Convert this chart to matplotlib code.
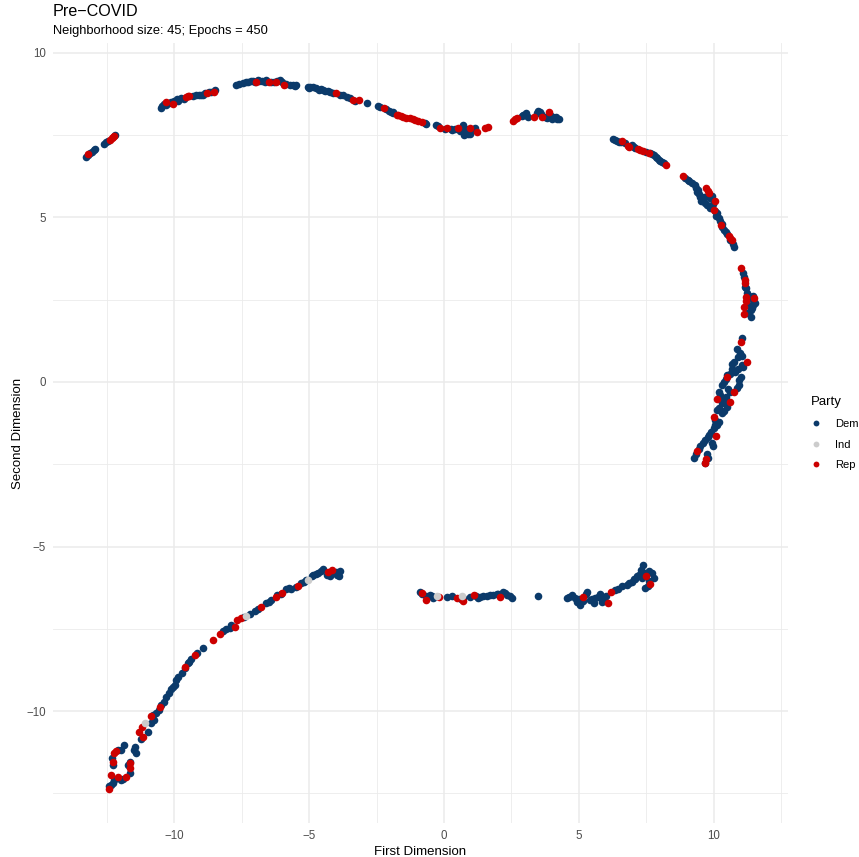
import matplotlib
matplotlib.use("Agg")
import matplotlib.pyplot as plt
from matplotlib.lines import Line2D

plt.rcParams['font.family'] = ['Liberation Sans', 'DejaVu Sans']

title = "Pre\u2212COVID"
subtitle = "Neighborhood size: 45; Epochs = 450"
x_label = "First Dimension"
y_label = "Second Dimension"
parties = ["Dem", "Ind", "Rep"]
party_colors = {"Dem": "#0B3A6A", "Ind": "#CCCCCC", "Rep": "#CC0000"}
x_ticks = [-10, -5, 0, 5, 10]
y_ticks = [-10, -5, 0, 5, 10]

dem_pts = [
    # top-left fragment
    (-13.27, 6.84), (-13.2, 6.9), (-13.12, 6.95), (-13.05, 7.0), (-12.98, 7.05), (-12.93, 7.08),
    (-12.6, 7.24), (-12.53, 7.28), (-12.47, 7.31), (-12.2, 7.5),
    # upper arc
    (-10.49, 8.34), (-10.45, 8.38), (-10.38, 8.44), (-10.2, 8.48), (-10.12, 8.5), (-10.0, 8.55),
    (-9.9, 8.6), (-9.85, 8.55), (-9.75, 8.62), (-9.3, 8.7), (-9.19, 8.72), (-9.1, 8.72),
    (-9.0, 8.72), (-8.94, 8.72), (-8.88, 8.77), (-8.65, 8.82), (-8.51, 8.86),
    (-10.3, 8.42), (-9.65, 8.6), (-8.7, 8.8),
    (-7.7, 9.02), (-7.6, 9.04), (-7.45, 9.07), (-7.35, 9.1), (-7.25, 9.12), (-7.15, 9.14),
    (-7.08, 9.16), (-6.85, 9.14), (-6.75, 9.15), (-6.65, 9.13), (-6.59, 9.18), (-6.4, 9.12),
    (-6.3, 9.1), (-6.09, 9.18), (-6.0, 9.1), (-5.85, 9.05), (-5.7, 9.03), (-5.6, 9.02),
    (-5.47, 9.02), (-5.52, 8.98), (-7.0, 9.12), (-6.9, 9.18), (-6.2, 9.15),
    (-5.04, 8.97), (-4.95, 8.95), (-4.85, 8.95), (-4.73, 8.92), (-4.65, 8.88), (-4.55, 8.9),
    (-4.48, 8.87), (-4.4, 8.85), (-4.3, 8.83), (-4.23, 8.82), (-3.85, 8.73), (-3.74, 8.72),
    (-3.6, 8.66), (-3.49, 8.62), (-2.85, 8.48), (-2.44, 8.39), (-2.38, 8.36), (-2.05, 8.24),
    (-1.95, 8.2), (-1.88, 8.18), (-5.0, 8.93), (-4.1, 8.78), (-3.3, 8.55), (-2.15, 8.28),
    (-1.9, 8.19), (-0.67, 7.83), (-0.72, 7.86), (-0.3, 7.8), (-0.22, 7.77), (0.05, 7.7),
    (0.25, 7.7), (0.41, 7.69), (0.72, 7.81), (0.8, 7.7), (0.85, 7.6), (0.9, 7.55),
    (0.95, 7.52), (1.15, 7.73), (1.05, 7.66), (0.3, 7.65), (0.6, 7.62), (0.75, 7.5), (0.92, 7.62),
    (2.89, 8.09), (2.95, 8.12), (3.05, 8.16), (3.0, 8.1), (3.5, 8.23), (3.45, 8.18),
    (3.81, 8.01), (3.75, 8.05), (3.95, 8.1), (4.06, 8.06), (4.15, 8.04), (4.28, 7.99), (3.6, 8.15),
    (3.1, 8.05), (3.55, 8.2), (4.0, 8.0), (4.2, 7.98),
    # right arc
    (6.27, 7.38), (6.35, 7.34), (6.48, 7.28), (6.55, 7.3), (6.97, 7.2), (7.05, 7.15),
    (7.65, 6.97), (7.72, 6.93), (7.78, 6.9), (7.85, 6.85), (7.96, 6.76), (8.03, 6.72), (8.09, 6.69),
    (6.4, 7.32), (6.7, 7.26), (7.1, 7.1), (7.5, 6.98), (7.9, 6.8), (8.15, 6.65),
    (8.95, 6.2), (9.04, 6.14), (9.1, 6.1), (9.32, 5.98), (9.35, 5.88), (9.39, 5.78), (9.45, 5.7),
    (9.51, 5.63), (9.6, 5.55), (9.88, 5.58), (9.95, 5.65), (9.76, 5.38), (9.7, 5.45), (9.85, 5.3),
    (10.13, 5.12), (10.05, 5.2), (10.19, 4.97), (10.25, 4.9), (10.38, 4.62), (10.32, 4.7),
    (10.5, 4.5), (10.77, 4.09), (10.72, 4.2),
    (9.2, 6.05), (9.42, 5.82), (9.55, 5.5), (9.65, 5.62), (9.98, 5.4), (10.1, 5.05), (10.3, 4.8),
    (10.6, 4.3), (10.45, 4.55),
    (11.08, 3.3), (11.12, 3.2), (11.2, 2.85), (11.24, 2.69), (11.3, 2.6), (11.45, 2.6),
    (11.52, 2.41), (11.48, 2.48), (11.37, 2.19), (11.42, 2.25), (11.39, 1.98),
    (11.15, 2.9), (11.28, 2.35), (11.25, 2.1), (11.45, 2.35),
    (11.06, 1.33), (10.97, 0.87), (11.05, 0.8), (10.92, 0.75), (10.75, 0.62), (10.7, 0.55),
    (11.06, 0.52), (11.1, 0.45), (10.81, 0.31), (10.9, 0.38), (10.5, 0.21), (10.6, 0.25),
    (11.0, 0.16), (10.95, 0.05), (10.38, 0.01), (10.45, 0.08), (10.93, -0.09), (10.85, -0.18),
    (10.62, -0.29), (10.55, -0.2), (10.19, -0.29), (10.25, -0.4), (10.38, -0.55), (10.45, -0.45),
    (10.5, -0.75), (10.55, -0.65), (10.13, -0.85), (10.2, -0.78), (10.32, -0.95), (10.4, -0.88),
    (10.07, -1.15), (10.13, -1.31), (10.2, -1.22), (10.05, -1.3), (9.82, -1.61), (9.9, -1.52),
    (9.7, -1.76), (9.78, -1.68), (9.94, -1.86), (9.98, -1.95), (9.51, -1.96), (9.45, -2.05),
    (9.26, -2.32), (9.7, -2.47), (9.75, -2.2),
    (10.85, 1.0), (10.7, 0.4), (10.3, -0.1), (10.3, -0.65), (10.0, -1.4), (9.6, -1.85),
    (9.35, -2.2), (9.8, -2.3),
    # lower-left arc
    (-12.41, -12.29), (-12.35, -12.25), (-12.28, -12.19), (-12.22, -12.09), (-11.97, -12.09),
    (-11.9, -12.05), (-11.66, -11.89), (-11.66, -11.54), (-11.7, -11.65), (-12.28, -11.63),
    (-12.31, -11.44), (-12.1, -11.18), (-11.97, -11.18), (-11.85, -11.03), (-11.48, -11.18),
    (-11.41, -11.28), (-11.45, -11.1), (-11.23, -10.86), (-10.98, -10.63), (-10.86, -10.37),
    (-10.74, -10.27), (-10.8, -10.12), (-10.67, -10.07), (-10.58, -9.96), (-10.49, -9.81),
    (-10.4, -9.71), (-10.3, -9.56), (-10.2, -9.44), (-10.12, -9.34), (-9.99, -9.2), (-9.93, -9.07),
    (-9.71, -8.83), (-9.62, -8.7), (-9.5, -8.55), (-9.37, -8.43), (-9.16, -8.22), (-8.92, -8.07),
    (-8.2, -7.58), (-8.07, -7.51), (-7.89, -7.38), (-7.95, -7.48), (-7.18, -7.06), (-6.9, -6.91),
    (-6.59, -6.73), (-6.5, -6.68), (-6.4, -6.62), (-5.84, -6.3), (-5.75, -6.27), (-5.66, -6.3),
    (-5.29, -6.12), (-5.2, -6.08), (-4.85, -5.86), (-4.75, -5.82), (-4.67, -5.81), (-4.48, -5.69),
    (-4.55, -5.75), (-4.23, -5.91), (-4.11, -5.81), (-4.0, -5.78), (-3.86, -5.73), (-3.89, -5.91),
    (-7.4, -7.15), (-7.0, -6.95), (-6.2, -6.48), (-6.05, -6.45), (-5.5, -6.22), (-5.1, -6.02),
    (-4.9, -5.9), (-4.35, -5.85), (-3.95, -5.85), (-9.85, -8.95), (-9.45, -8.5), (-10.05, -9.27),
    # lower-middle band
    (-0.89, -6.37), (-0.8, -6.45), (-0.52, -6.47), (-0.4, -6.57), (-0.45, -6.5), (0.12, -6.52),
    (0.72, -6.55), (0.62, -6.6), (1.2, -6.5), (1.34, -6.52), (1.45, -6.5), (1.59, -6.5),
    (1.7, -6.48), (1.83, -6.47), (1.95, -6.45), (2.2, -6.37), (2.25, -6.42), (2.33, -6.47),
    (2.51, -6.57), (2.45, -6.5), (3.5, -6.49), (4.56, -6.57), (4.65, -6.52), (4.74, -6.47),
    (4.93, -6.67), (5.05, -6.77), (5.0, -6.6), (5.3, -6.37), (5.25, -6.45), (5.42, -6.62),
    (5.55, -6.73), (5.48, -6.6), (5.73, -6.52), (5.8, -6.45), (5.86, -6.67), (5.95, -6.6),
    (6.35, -6.32), (6.45, -6.28), (6.79, -6.17), (6.85, -6.12), (6.97, -6.07), (7.05, -6.0),
    (7.16, -5.91), (7.25, -5.85), (7.4, -5.56), (7.71, -5.81), (7.6, -5.75), (7.47, -6.27),
    (7.55, -6.2), (7.78, -5.97), (7.35, -5.95),
    (-0.65, -6.5), (0.3, -6.5), (0.95, -6.52), (1.25, -6.55), (2.0, -6.45), (4.85, -6.55),
    (5.15, -6.65), (5.6, -6.55), (6.0, -6.5), (6.6, -6.2), (7.3, -5.72), (7.45, -5.8),
    (7.6, -6.05), (7.1, -6.0),
]

rep_pts = [
    (-13.2, 6.93), (-12.4, 7.35), (-12.33, 7.4), (-12.28, 7.44), (-12.22, 7.48),
    (-10.3, 8.5), (-10.06, 8.44), (-9.58, 8.65), (-9.5, 8.68), (-9.46, 8.7), (-8.78, 8.79), (-8.53, 8.81),
    (-6.96, 9.12), (-6.49, 9.12), (-6.22, 9.1), (-5.93, 9.02),
    (-4.01, 8.77), (-3.37, 8.58), (-3.15, 8.57), (-2.23, 8.31), (-1.76, 8.11),
    (-1.7, 8.1), (-1.6, 8.07), (-1.51, 8.04), (-1.4, 8.02), (-1.26, 8.01), (-1.15, 7.98),
    (-1.08, 7.96), (-0.95, 7.92), (-0.83, 7.89), (-0.15, 7.73), (0.12, 7.71), (0.53, 7.73),
    (0.97, 7.71), (1.24, 7.6), (1.52, 7.73), (1.65, 7.76),
    (2.57, 7.93), (2.65, 7.98), (2.7, 8.01), (3.34, 8.06), (3.63, 8.06), (3.91, 8.21),
    (6.6, 7.33), (6.88, 7.15), (6.82, 7.18), (7.18, 7.07), (7.38, 7.02), (7.28, 7.05), (7.59, 6.95), (8.25, 6.59),
    (8.87, 6.27), (9.73, 5.88), (9.78, 5.8), (9.82, 5.73), (10.07, 5.51), (10.0, 5.22),
    (10.28, 4.77), (10.56, 4.43), (10.62, 4.38), (10.69, 4.31),
    (11.02, 3.47), (11.18, 3.0), (11.15, 3.1), (11.22, 2.59), (11.49, 2.54), (11.14, 2.29),
    (11.14, 2.06), (11.2, 2.45),
    (11.03, 1.22), (11.24, 0.62), (10.48, 0.14), (10.75, -0.29), (10.13, -0.53), (10.62, -0.6),
    (10.0, -1.07), (10.1, -1.63), (9.39, -2.09), (9.73, -2.35), (9.68, -2.45),
    (-12.41, -12.37), (-12.34, -11.94), (-12.1, -11.99), (-11.79, -11.99), (-11.63, -11.74),
    (-11.66, -11.59), (-12.28, -11.54), (-12.22, -11.28), (-12.15, -11.22), (-11.17, -10.78),
    (-11.32, -10.63), (-11.2, -10.47), (-10.85, -10.15), (-10.52, -9.88), (-9.6, -8.66),
    (-9.25, -8.29), (-8.57, -7.84), (-8.32, -7.65), (-7.76, -7.45), (-7.66, -7.23), (-7.51, -7.18),
    (-6.77, -6.85), (-6.24, -6.52), (-5.99, -6.4), (-5.43, -6.2), (-4.3, -5.76), (-4.15, -5.72),
    (-0.83, -6.42), (-0.67, -6.62), (-0.17, -6.52), (0.49, -6.57), (0.69, -6.64), (1.11, -6.47),
    (2.08, -6.52), (5.17, -6.52), (6.1, -6.73), (6.19, -6.37), (7.49, -5.89), (7.63, -6.15),
]

ind_pts = [(-11.07, -10.35), (-7.36, -7.1), (-5.04, -6.01), (-0.27, -6.5), (0.66, -6.5)]

W, H = 859, 857
fig = plt.figure(figsize=(W / 100, H / 100), dpi=100)
ax = fig.add_axes([53 / W, 1 - 823 / H, (788 - 53) / W, (823 - 43) / H])

for name, pts in (("Dem", dem_pts), ("Rep", rep_pts), ("Ind", ind_pts)):
    xs = [p[0] for p in pts]
    ys = [p[1] for p in pts]
    ax.scatter(xs, ys, s=30, color=party_colors[name], linewidths=0, zorder=3)

ax.set_xlim(-14.5, 12.76)
ax.set_ylim(-13.4, 10.3)
ax.set_xticks(x_ticks)
ax.set_yticks(y_ticks)
ax.set_xticks([-12.5, -7.5, -2.5, 2.5, 7.5, 12.5], minor=True)
ax.set_yticks([-12.5, -7.5, -2.5, 2.5, 7.5], minor=True)
ax.set_xticklabels(["\u221210", "\u22125", "0", "5", "10"])
ax.set_yticklabels(["\u221210", "\u22125", "0", "5", "10"])
ax.grid(True, which="major", color="#EBEBEB", linewidth=1.1, zorder=0)
ax.grid(True, which="minor", color="#EBEBEB", linewidth=0.6, zorder=0)
ax.set_axisbelow(True)
for sp in ax.spines.values():
    sp.set_visible(False)
ax.tick_params(which="both", length=0)
ax.tick_params(axis="both", labelsize=8.3, labelcolor="#4D4D4D", pad=5)

ax.set_xlabel(x_label, fontsize=9.5, labelpad=3)
ax.set_ylabel(y_label, fontsize=9.5, labelpad=2)

fig.text(53 / W, 1 - 12 / H, title, fontsize=11.6, ha="left", va="center")
fig.text(53 / W, 1 - 31 / H, subtitle, fontsize=9.3, ha="left", va="center")

handles = [Line2D([], [], marker="o", linestyle="", markersize=4.2,
                  markerfacecolor=party_colors[p], markeredgewidth=0) for p in parties]
leg = fig.legend(handles, parties, title="Party", loc="upper left",
                 bbox_to_anchor=(806 / W, 1 - 392 / H), frameon=False,
                 fontsize=8.0, title_fontsize=9.5, alignment="left",
                 handletextpad=1.2, labelspacing=0.95, handlelength=1.0, borderaxespad=0)

fig.savefig("out.png", dpi=100)
